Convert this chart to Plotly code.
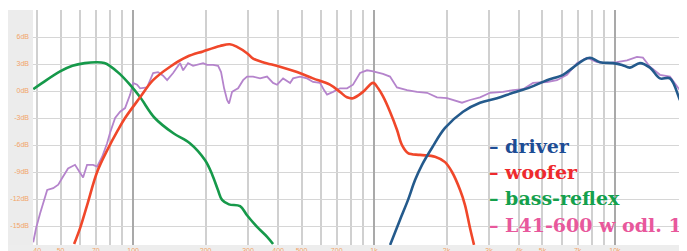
import plotly.graph_objects as go

# ---- data (frequency in Hz, level in dB) ----
green_f = [38.5, 42, 50, 56, 63, 71, 76, 80, 88, 97, 107, 123, 147, 172, 199, 213, 225, 234, 250, 278, 297, 327, 360, 381]
green_db = [0.2, 0.9, 2.2, 2.8, 3.1, 3.2, 3.1, 2.8, 1.9, 0.7, -0.7, -3.0, -4.7, -5.8, -7.7, -9.3, -11.0, -12.1, -12.6, -12.8, -13.8, -15.1, -16.2, -17.0]

red_f = [56.9, 60.3, 64.4, 70.9, 78.0, 86.7, 92.6, 106.9, 121, 142.4, 167.5, 195, 229.6, 252, 270, 297, 315, 346, 407, 479,
         558, 656, 722, 772, 818, 900, 991, 1040, 1090, 1165, 1245, 1306, 1384, 1552, 1791, 1971, 2107, 2276, 2387, 2501, 2600]
red_db = [-17.0, -15.2, -12.7, -9.0, -6.6, -4.3, -3.0, -0.7, 1.2, 2.7, 3.8, 4.4, 5.0, 5.2, 4.9, 4.2, 3.6, 3.2, 2.7, 2.1,
          1.4, 0.7, -0.1, -0.7, -0.8, -0.1, 0.9, 0.3, -0.6, -2.3, -4.3, -6.0, -6.9, -7.1, -7.3, -7.9, -9.0, -11.0, -12.7, -15.2, -17.1]

blue_f = [1166, 1282, 1384, 1480, 1582, 1741, 1971, 2341, 2753, 3238, 3773, 4440, 5221, 6087, 6697, 7367, 7876, 8664,
          9816, 10700, 11540, 12700, 13970, 15380, 16910, 18610, 19900]
blue_db = [-17.1, -14.3, -12.1, -9.9, -8.2, -6.3, -4.1, -2.3, -1.3, -0.8, -0.2, 0.4, 1.2, 1.8, 2.6, 3.4, 3.7, 3.2,
           3.1, 2.9, 2.6, 3.1, 2.6, 1.4, 1.4, -1.0, -2.7]

purple_f = [38.5, 39.6, 41.1, 42.7, 44.0, 46.6, 48.9, 50.7, 53.7, 57.4, 60.3, 62.0, 64.4, 68.2, 70.9, 74.4, 78.0, 80.3, 84.2, 88.3,
            92.6, 97.2, 100, 103.9, 106.9, 114.3, 121.1, 126.9, 133.2, 138.4, 146.6, 156.7, 161.3, 169.1, 177.4, 184.4, 195.2, 202.8, 214.8, 225.3,
            231.8, 238.6, 245.5, 250.2, 257.5, 265, 272.8, 286.1, 297.2, 314.8, 336.5, 359.7, 380.9, 395.9, 419.4, 448.3, 461.3, 493.1, 527.2, 558.2,
            596.8, 620.0, 638.3, 676.1, 722.3, 772.6, 818.0, 874.7, 935.0, 981.5, 1028, 1089, 1165, 1245, 1371, 1508, 1660, 1825, 2009, 2128,
            2318, 2501, 2754, 3029, 3430, 3776, 4152, 4571, 5224, 5745, 6322, 6955, 7651, 8417, 9265, 10190, 11220, 12340, 13060, 13970,
            15370, 16910, 18610, 19900]
purple_db = [-16.8, -15.2, -13.6, -12.1, -11.0, -10.8, -10.4, -9.7, -8.6, -8.2, -9.1, -9.6, -8.2, -8.2, -8.4, -7.3, -5.8, -4.6, -3.0, -2.3,
             -1.9, -0.4, 0.9, 0.7, 0.3, 0.4, 2.0, 2.1, 1.7, 1.2, 2.0, 3.1, 2.3, 3.1, 2.8, 2.9, 3.1, 2.9, 2.9, 2.8,
             2.1, 0.3, -1.0, -1.4, -0.1, 0.1, 0.3, 1.2, 1.6, 1.6, 1.4, 1.6, 0.9, 0.7, 1.4, 0.9, 1.4, 1.6, 1.4, 1.0,
             0.9, 0.1, -0.4, -0.1, 0.3, 0.3, 0.7, 2.0, 2.3, 2.2, 2.1, 1.9, 1.6, 0.4, 0.1, -0.1, -0.2, -0.7, -0.8, -1.0,
             -1.3, -1.0, -0.7, -0.2, -0.1, 0.1, 0.2, 0.9, 1.0, 1.2, 1.8, 3.1, 3.7, 3.2, 3.1, 3.2, 3.4, 3.8, 3.7, 2.7,
             1.8, 1.6, 0.1, -1.0]

y_ticks = [-15, -12, -9, -6, -3, 0, 3, 6, 9]
y_ticktext = ["-15dB", "-12dB", "-9dB", "-6dB", "-3dB", "0dB", "3dB", "6dB", "9dB"]
x_ticks = [40, 50, 70, 100, 200, 300, 400, 500, 700, 1000, 2000, 3000, 4000, 5000, 7000, 10000, 20000]
x_ticktext = ["40", "50", "70", "100", "200", "300", "400", "500", "700", "1k", "2k", "3k", "4k", "5k", "7k", "10k", "20k"]
x_minor = [60, 80, 90, 600, 800, 900, 6000, 8000, 9000]
x_decades = [100, 1000, 10000]

legend_labels = ["– driver", "– woofer", "– bass-reflex", "– L41-600 w odl. 1 m"]
legend_colors = ["#1d4c94", "#ee2a2e", "#14a04c", "#e8589c"]

# the page places the figure 8px from the top-left corner
W, H = 679, 243
ML, MR, MT, MB = 25, 0, 2, 6
xr = [1.5845, 4.299]
yr = [-17.11, 9.0]

fig = go.Figure()
# invisible trace for decade grid axis
fig.add_trace(go.Scatter(x=[100, 1000], y=[0, 0], xaxis="x2", mode="markers",
                         marker=dict(opacity=0), showlegend=False, hoverinfo="skip"))
fig.add_trace(go.Scatter(x=purple_f, y=purple_db, mode="lines",
                         line=dict(color="#b584cc", width=1.8), showlegend=False))
fig.add_trace(go.Scatter(x=green_f, y=green_db, mode="lines", line_shape="spline",
                         line=dict(color="#16994a", width=2.6), showlegend=False))
fig.add_trace(go.Scatter(x=red_f, y=red_db, mode="lines", line_shape="spline",
                         line=dict(color="#f0472a", width=2.6), showlegend=False))
fig.add_trace(go.Scatter(x=blue_f, y=blue_db, mode="lines", line_shape="spline",
                         line=dict(color="#245a8c", width=2.6), showlegend=False))

tickfont = dict(family="Arial, Liberation Sans", size=7, color="#f2a468")
fig.update_layout(
    width=W, height=H,
    margin=dict(l=ML, r=MR, t=MT, b=MB, pad=0, autoexpand=False),
    paper_bgcolor="white", plot_bgcolor="white",
    xaxis=dict(type="log", range=xr, tickvals=x_ticks, ticktext=x_ticktext, automargin=False,
               showgrid=True, gridcolor="#d0d0d0", gridwidth=1.5, zeroline=False,
               showline=False, ticks="", tickfont=tickfont,
               minor=dict(tickvals=x_minor, showgrid=True, gridcolor="#d0d0d0", gridwidth=1.5, ticks="")),
    xaxis2=dict(type="log", range=xr, overlaying="x", tickvals=x_decades, showticklabels=False, automargin=False,
                showgrid=True, gridcolor="#a9a9a9", gridwidth=1.6, zeroline=False, ticks="", side="bottom"),
    yaxis=dict(range=yr, tickvals=y_ticks, ticktext=y_ticktext, showgrid=True, automargin=False,
               gridcolor="#d6d6d6", gridwidth=1, zeroline=False, showline=False, ticks="",
               tickfont=tickfont, ticklabelstandoff=3),
)

pw = W - ML - MR
ph = H - MT - MB
shapes = [
    dict(type="rect", xref="paper", yref="paper", x0=-ML / pw, x1=0, y0=0, y1=1,
         fillcolor="#ececec", line=dict(width=0), layer="below"),
    dict(type="rect", xref="paper", yref="paper", x0=-ML / pw, x1=1, y0=-MB / ph, y1=0,
         fillcolor="#ededed", line=dict(width=0), layer="below"),
]
fig.update_layout(shapes=shapes)

leg_y_px = [138, 164, 190, 217]
for lab, col, ypx in zip(legend_labels, legend_colors, leg_y_px):
    fig.add_annotation(xref="paper", yref="paper", x=(479 - ML) / pw, y=(H - MB - ypx) / ph,
                       xanchor="left", yanchor="middle", showarrow=False,
                       text="<b>" + lab + "</b>",
                       font=dict(family="DejaVu Serif", size=19, color=col))

fig.write_html("out.html")
